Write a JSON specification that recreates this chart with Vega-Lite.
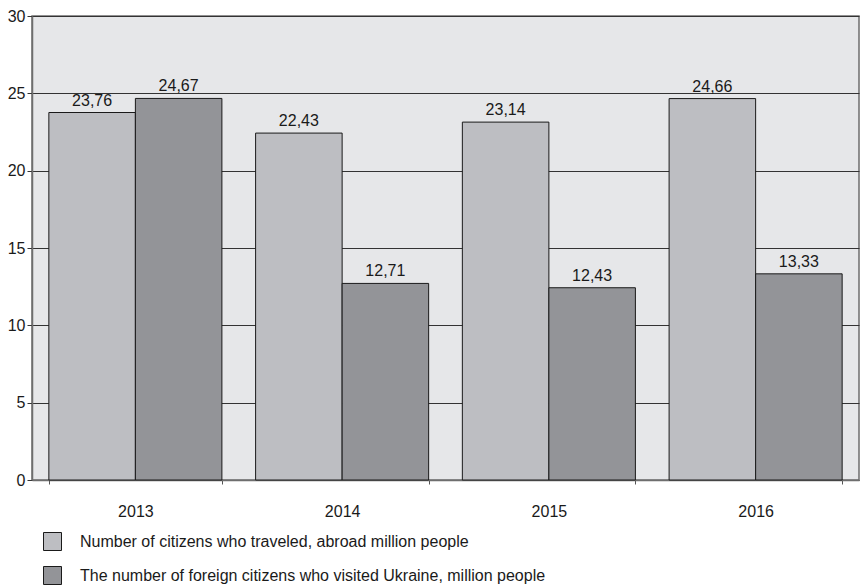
{
  "$schema": "https://vega.github.io/schema/vega-lite/v6.json",
  "width": 827,
  "height": 464,
  "autosize": {"type": "none"},
  "padding": {"left": 32, "top": 16, "right": 1, "bottom": 107},
  "config": {
    "font": "Liberation Sans",
    "view": {"fill": "#e6e7e9", "stroke": "#6e6e6e", "strokeWidth": 1.5}
  },
  "data": {
    "values": [
      {"year": "2013", "series": "Number of citizens who traveled, abroad million people", "value": 23.76, "label": "23,76"},
      {"year": "2013", "series": "The number of foreign citizens who visited Ukraine, million people", "value": 24.67, "label": "24,67"},
      {"year": "2014", "series": "Number of citizens who traveled, abroad million people", "value": 22.43, "label": "22,43"},
      {"year": "2014", "series": "The number of foreign citizens who visited Ukraine, million people", "value": 12.71, "label": "12,71"},
      {"year": "2015", "series": "Number of citizens who traveled, abroad million people", "value": 23.14, "label": "23,14"},
      {"year": "2015", "series": "The number of foreign citizens who visited Ukraine, million people", "value": 12.43, "label": "12,43"},
      {"year": "2016", "series": "Number of citizens who traveled, abroad million people", "value": 24.66, "label": "24,66"},
      {"year": "2016", "series": "The number of foreign citizens who visited Ukraine, million people", "value": 13.33, "label": "13,33"}
    ]
  },
  "encoding": {
    "x": {
      "field": "year", "type": "nominal",
      "scale": {"paddingInner": 0.163, "paddingOuter": 0.0815},
      "axis": {"title": null, "labelAngle": 0, "tickBand": "extent", "tickSize": 4, "tickColor": "#555555", "domainColor": "#6e6e6e", "domainWidth": 1.5, "labelFontSize": 16, "labelPadding": 19, "labelColor": "#1a1a1a"}
    },
    "xOffset": {
      "field": "series", "type": "nominal",
      "sort": ["Number of citizens who traveled, abroad million people", "The number of foreign citizens who visited Ukraine, million people"],
      "scale": {"paddingInner": 0, "paddingOuter": 0}
    },
    "y": {
      "field": "value", "type": "quantitative",
      "scale": {"domain": [0, 30]},
      "axis": {"title": null, "values": [0, 5, 10, 15, 20, 25, 30], "gridColor": "#333333", "gridWidth": 1, "gridOpacity": 1, "tickSize": 5, "tickColor": "#333333", "domainColor": "#6e6e6e", "domainWidth": 1.5, "labelFontSize": 16, "labelPadding": 2, "labelColor": "#1a1a1a"}
    }
  },
  "layer": [
    {
      "mark": {"type": "bar", "stroke": "#1a1a1a", "strokeWidth": 1},
      "encoding": {
        "color": {
          "field": "series", "type": "nominal",
          "scale": {"domain": ["Number of citizens who traveled, abroad million people", "The number of foreign citizens who visited Ukraine, million people"], "range": ["#bdbec2", "#939498"]},
          "legend": {"title": null, "orient": "none", "legendX": 11, "legendY": 516, "padding": 0, "symbolType": "square", "symbolSize": 324, "symbolStrokeColor": "#1a1a1a", "symbolStrokeWidth": 1, "symbolOpacity": 1, "labelFontSize": 16, "labelColor": "#1a1a1a", "labelOffset": 18, "rowPadding": 11, "labelLimit": 700}
        }
      }
    },
    {
      "mark": {"type": "text", "dy": -7, "baseline": "alphabetic", "fontSize": 16, "color": "#1a1a1a"},
      "encoding": {"text": {"field": "label"}}
    }
  ]
}
